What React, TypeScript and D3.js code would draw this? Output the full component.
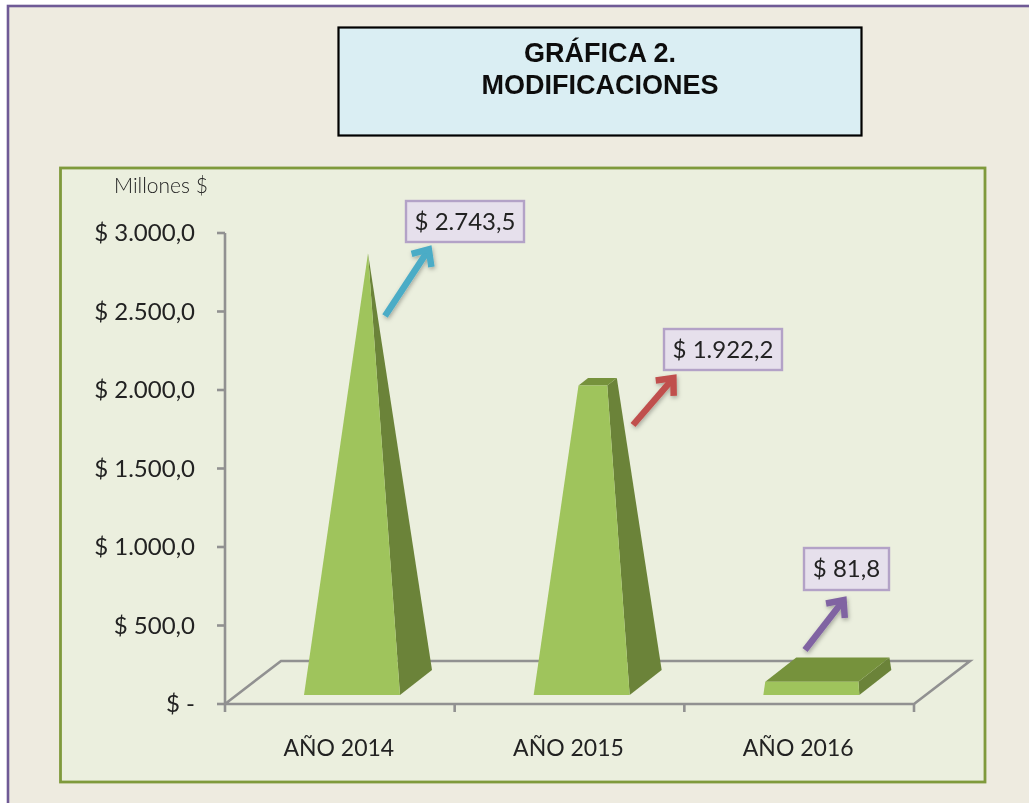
import React from "react";
import * as d3 from "d3";

const categories = ["AÑO 2014", "AÑO 2015", "AÑO 2016"];
const values = [2743.5, 1922.2, 81.8];
const labels = ["$ 2.743,5", "$ 1.922,2", "$ 81,8"];
const yTicks = [0, 500, 1000, 1500, 2000, 2500, 3000];
const yTickLabels = ["$ -", "$ 500,0", "$ 1.000,0", "$ 1.500,0", "$ 2.000,0", "$ 2.500,0", "$ 3.000,0"];
const arrowColors = ["#4BACC6", "#C0504D", "#8064A2"];
const arrowPaths = [
  [385, 316, 431, 246],
  [633, 425, 676, 375],
  [805, 650, 846, 597],
];
const labelBoxes = [
  [406, 201, 118, 41],
  [664, 329, 118, 41],
  [804, 548, 85, 42],
];

const W = 1029, H = 803;
const x = d3.scaleBand<string>().domain(categories).range([225, 914]);
const y = d3.scaleLinear().domain([0, 3000]).range([704, 233]);
const barY = d3.scaleLinear().domain([0, 3000]).range([695, 212]);
const vMax = d3.max(values) as number;
const depth = { x: 32, y: -25 };
const floor = { x: 56, y: -43 };
const line = d3.line();

function barParts(cat: string, v: number) {
  const x0 = (x(cat) as number) + 79;
  const x1 = x0 + 96;
  const t = v / vMax;
  const apexX = x0 + 64;
  const apexY = barY(vMax);
  const lerp = (a: number, b: number) => a + (b - a) * t;
  const fl: [number, number] = [x0, 695];
  const fr: [number, number] = [x1, 695];
  const br: [number, number] = [x1 + depth.x, 695 + depth.y];
  const bl: [number, number] = [x0 + depth.x, 695 + depth.y];
  const up = (p: [number, number]): [number, number] => [lerp(p[0], apexX), lerp(p[1], apexY)];
  const tfl = up(fl), tfr = up(fr), tbr = up(br), tbl = up(bl);
  return {
    front: line([fl, fr, tfr, tfl, fl]) as string,
    side: line([fr, br, tbr, tfr, fr]) as string,
    top: line([tfl, tfr, tbr, tbl, tfl]) as string,
  };
}

export default function App() {
  const ink = "#222222";
  const grey = "#919191";
  return (
    <svg width={W} height={H} style={{ position: "absolute", left: 0, top: 0, display: "block", background: "#ffffff" }}>
      <defs>
        <filter id="sh" x="-30%" y="-30%" width="170%" height="170%">
          <feDropShadow dx="1" dy="2" stdDeviation="2" floodColor="#000" floodOpacity="0.3" />
        </filter>
        <filter id="soft" x="-5%" y="-5%" width="110%" height="110%">
          <feGaussianBlur stdDeviation="0.4" />
        </filter>
      </defs>

      <rect x={8} y={6} width={W + 10} height={H + 10} fill="#EEEBE0" stroke="#6F5A96" strokeWidth={2.6} />

      <rect x={338.5} y={27.5} width={523} height={108} fill="#DAEEF3" stroke="#000" strokeWidth={2.2} />
      <g fontFamily="'Liberation Sans'" fontWeight={700} fontSize={27} textAnchor="middle" fill="#111" filter="url(#soft)">
        <text x={600} y={62}>GRÁFICA 2.</text>
        <text x={600} y={94}>MODIFICACIONES</text>
      </g>

      <rect x={60.5} y={168} width={924.5} height={614} fill="#EBEFDE" stroke="#7F9A3C" strokeWidth={2.8} />

      <g fill="none" stroke={grey} strokeWidth={2.6}>
        <path d={line([[225, 233], [225, 704]]) as string} />
        <path d={line([[225, 704], [225 + floor.x, 704 + floor.y], [914 + floor.x, 704 + floor.y], [914, 704], [225, 704]]) as string} />
        {yTicks.map((t) => (
          <line key={t} x1={217} x2={225} y1={y(t)} y2={y(t)} />
        ))}
        {[...categories.map((c) => x(c) as number), 914].map((p) => (
          <line key={p} x1={p} x2={p} y1={704} y2={712} />
        ))}
      </g>

      {categories.map((c, i) => {
        const p = barParts(c, values[i]);
        return (
          <g key={c}>
            <path d={p.side} fill="#6B8339" />
            <path d={p.top} fill="#76923C" />
            <path d={p.front} fill="#9FC45C" />
          </g>
        );
      })}

      <g fontFamily="Lato" fontSize={24} fill={ink} filter="url(#soft)">
        <text x={114} y={193} fontSize={21} fontWeight={300}>Millones $</text>
        {yTicks.map((t, i) => (
          <text key={t} x={195} y={y(t) + 8} textAnchor="end">{yTickLabels[i]}</text>
        ))}
        {categories.map((c) => (
          <text key={c} x={(x(c) as number) + (x.bandwidth() / 2) - 1} y={756} textAnchor="middle" fontSize={23}>{c}</text>
        ))}
      </g>

      {arrowPaths.map(([a, b, c, d], i) => {
        const ang = Math.atan2(d - b, c - a);
        const hl = 21;
        const tip: [number, number] = [c - 4 * Math.cos(ang), d - 4 * Math.sin(ang)];
        const p = (da: number): [number, number] => [c - hl * Math.cos(ang + da), d - hl * Math.sin(ang + da)];
        return (
          <g key={i} filter="url(#sh)" fill="none" stroke={arrowColors[i]} strokeWidth={6.5}>
            <path d={line([[a, b], tip]) as string} />
            <path d={line([p(0.6), tip, p(-0.6)]) as string} strokeLinejoin="miter" />
          </g>
        );
      })}

      {labels.map((l, i) => {
        const [bx, by, bw, bh] = labelBoxes[i];
        return (
          <g key={l}>
            <rect x={bx} y={by} width={bw} height={bh} fill="#E6E0EC" stroke="#B3A2C7" strokeWidth={2.4} />
            <text x={bx + bw / 2} y={by + bh / 2 + 8} textAnchor="middle" fontFamily="Lato" fontSize={24} fill={ink} filter="url(#soft)">{l}</text>
          </g>
        );
      })}
    </svg>
  );
}
